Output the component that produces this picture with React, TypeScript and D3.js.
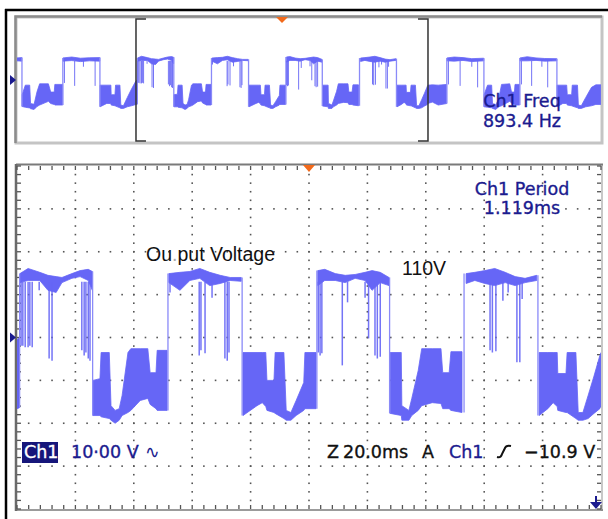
import React from "react";
import * as d3 from "d3";

// one trace point: [time (div), top of band (V), bottom of band (V)]
type Pt = [number, number, number];

// the acquired record, one run per level, in time order (main window is 0..10 div)
const traceRuns: Pt[][] = [
  [[-4.08, 15.0, 13.0], [-3.91, 15.2, 12.8]],
  [[-3.9, -10.0, -18.0], [-3.79, -3.5, -18.5], [-3.64, -3.5, -19.0], [-3.61, -16.0, -19.5], [-3.49, -16.5, -20.0], [-3.39, -8.0, -18.0], [-3.3, -2.6, -17.0], [-3.0, -2.6, -14.5], [-2.92, -8.2, -16.0], [-2.8, -8.2, -16.6], [-2.78, -3.0, -17.0], [-2.51, -3.0, -17.0]],
  [[-2.5, 15.0, 12.8], [-2.2, 15.6, 13.2], [-1.9, 14.8, 12.5], [-1.6, 15.1, 13.0], [-1.24, 15.2, 12.8]],
  [[-1.23, -3.5, -18.2], [-1.0, -3.5, -15.9], [-0.86, -3.5, -16.0], [-0.85, -10.0, -17.0], [-0.72, -10.0, -17.5], [-0.7, -3.5, -17.7], [-0.55, -3.5, -18.9], [-0.52, -17.0, -19.3], [-0.43, -17.5, -19.3], [-0.3, -12.0, -18.2], [-0.15, -6.0, -17.5], [0.0, -0.5, -16.6], [0.04, 0.0, -16.4]],
  [[0.05, 14.9, 12.8], [0.19, 16.1, 13.3], [0.39, 15.2, 13.3], [0.53, 14.5, 11.0], [0.67, 14.2, 10.5], [0.77, 14.0, 12.8], [0.94, 14.9, 13.8], [1.08, 15.6, 14.2], [1.22, 15.9, 13.3], [1.29, 15.4, 11.0]],
  [[1.3, -10.0, -18.2], [1.42, -9.6, -18.2], [1.44, -3.5, -18.5], [1.58, -3.5, -18.9], [1.61, -15.9, -19.3], [1.68, -17.0, -20.0], [1.75, -16.6, -19.3], [1.8, -13.5, -18.2], [1.9, -3.5, -17.5], [1.95, -2.6, -17.0], [2.11, -2.6, -14.7], [2.24, -2.6, -14.2], [2.28, -8.2, -15.6], [2.38, -8.2, -16.6], [2.4, -3.0, -17.0], [2.57, -3.0, -17.0]],
  [[2.6, 14.9, 12.8], [2.79, 15.2, 11.0], [2.96, 15.4, 13.3], [3.13, 16.1, 13.8], [3.3, 15.2, 12.1], [3.48, 14.5, 12.6], [3.65, 14.0, 13.3], [3.84, 14.0, 13.1]],
  [[3.87, -3.5, -18.2], [4.11, -3.5, -15.9], [4.2, -3.5, -15.2], [4.26, -3.5, -16.1], [4.28, -10.0, -17.0], [4.4, -10.0, -17.5], [4.42, -3.5, -17.7], [4.57, -3.5, -18.9], [4.61, -17.0, -19.3], [4.69, -17.5, -19.3], [4.78, -14.7, -18.2], [4.91, -10.5, -17.0], [4.93, -3.5, -16.6], [5.12, -3.5, -16.6]],
  [[5.15, 15.6, 12.1], [5.27, 15.9, 13.3], [5.45, 14.9, 13.3], [5.62, 14.5, 12.8], [5.79, 14.7, 13.8], [5.96, 15.2, 13.3], [6.08, 15.6, 11.0], [6.22, 15.2, 12.8], [6.37, 14.0, 12.1]],
  [[6.39, -3.5, -17.7], [6.58, -3.5, -18.2], [6.59, -15.9, -19.3], [6.71, -17.0, -19.3], [6.76, -14.2, -18.2], [6.87, -7.7, -17.0], [6.93, -2.6, -15.9], [7.11, -2.6, -15.2], [7.26, -2.6, -15.4], [7.29, -8.2, -16.6], [7.4, -8.2, -16.6], [7.43, -3.3, -17.0], [7.62, -3.3, -17.5]],
  [[7.69, 14.9, 12.6], [7.84, 15.2, 13.3], [8.01, 15.6, 12.6], [8.18, 16.1, 12.1], [8.36, 15.2, 12.8], [8.53, 14.2, 12.1], [8.7, 13.8, 12.8], [8.9, 14.5, 13.3]],
  [[8.94, -3.5, -18.2], [9.09, -3.5, -16.6], [9.18, -3.5, -15.2], [9.25, -3.5, -16.1], [9.26, -8.4, -17.0], [9.4, -8.4, -17.5], [9.42, -3.5, -17.5], [9.57, -3.5, -18.9], [9.61, -17.5, -19.3], [9.69, -17.5, -19.3], [9.78, -13.5, -18.9], [9.88, -9.0, -17.7], [9.98, -4.2, -16.6], [10.0, -3.5, -15.9], [10.15, -3.3, -15.0], [10.35, -3.5, -17.0], [10.64, -3.0, -16.0]],
  [[10.65, 15.0, 13.0], [10.9, 15.6, 12.8], [11.2, 15.2, 13.3], [11.5, 14.5, 12.5], [11.91, 14.8, 13.0]],
  [[11.92, -10.0, -18.2], [12.04, -3.5, -18.5], [12.18, -3.5, -18.9], [12.21, -16.0, -19.3], [12.32, -16.8, -20.0], [12.42, -13.0, -18.2], [12.52, -3.0, -17.5], [12.8, -2.6, -14.5], [12.86, -8.2, -15.6], [12.96, -8.2, -16.6], [12.98, -3.0, -17.0], [13.14, -3.0, -17.0]],
  [[13.15, 15.0, 13.0], [13.4, 15.8, 13.0], [13.7, 15.0, 13.3], [14.0, 14.6, 12.8], [14.41, 14.5, 13.0]],
  [[14.42, -3.5, -18.2], [14.62, -3.5, -15.9], [14.75, -3.5, -16.0], [14.77, -10.0, -17.0], [14.92, -10.0, -17.5], [14.94, -3.5, -17.7], [15.12, -3.5, -18.9], [15.15, -17.0, -19.3], [15.25, -17.5, -19.3], [15.4, -12.0, -18.2], [15.6, -5.0, -17.5], [15.75, -3.3, -16.6], [15.92, -3.3, -16.6]],
];

// glitches dropping out of the positive level: [time (div), lowest value (V)]
const spikes: [number, number][] = [
  [0.07, -1.9], [0.1, -1.9], [0.14, -2.3], [0.19, -2.3], [0.22, -1.9], [0.26, -2.3], [0.38, 11.0], [0.55, -4.9], [0.6, -5.4],
  [1.11, -3.0], [1.15, -4.2], [1.18, -3.5], [1.22, -4.9], [1.25, -5.4],
  [2.62, 10.5], [3.12, -4.2], [3.15, -3.0], [3.22, -3.7], [3.34, 9.3], [3.56, -4.9], [3.6, -5.4], [3.63, -3.5],
  [5.16, -3.5], [5.19, -4.2], [5.22, -3.7], [5.57, -6.5], [5.66, 8.2], [5.96, 9.3], [6.02, -0.2], [6.13, -4.2], [6.17, -4.9], [6.22, -4.5],
  [8.1, -3.0], [8.14, -3.5], [8.2, -3.2], [8.32, 8.6], [8.41, 10.5], [8.56, -5.8], [8.61, -5.8], [8.65, 9.0],
  [-2.45, -2.0], [-2.1, -4.0], [-1.8, 9.0], [-1.4, -4.0], [10.7, -3.0], [11.1, -4.0], [11.5, 9.0], [11.7, -5.0],
  [13.2, -3.0], [13.55, -4.0], [13.9, 9.0], [14.1, -5.0],
];

const spikeTop = 13;
const mainWindow = [0, 10];
const hDivs = 10;
const vDivs = 8;
const voltsPerDiv = 10;

const freqLabel = ["Ch1 Freq", "893.4 Hz"];
const periodLabel = ["Ch1 Period", "1.119ms"];
const annotation = "Output Voltage";
const levelNote = "110V";

const W = 608;
const H = 519;
const mainBox = { x0: 17, x1: 601, y0: 166, y1: 509 };
const overBox = { x0: 17, x1: 601, y0: 18, y1: 142 };

const TRACE = "#6666f6";
const NAVY = "#1b1b8f";
const SCOPE_FONT = "'DejaVu Sans', Verdana, sans-serif";
const NOTE_FONT = "'Liberation Sans', Arial, sans-serif";

const xMain = d3.scaleLinear().domain(mainWindow).range([mainBox.x0, mainBox.x1]);
const yMain = d3
  .scaleLinear()
  .domain([(-vDivs / 2) * voltsPerDiv, (vDivs / 2) * voltsPerDiv])
  .range([mainBox.y1, mainBox.y0]);
// overview shows the whole record, the main window is a 2x zoom of it
const xOver = d3.scaleLinear().domain([-4.075, 15.925]).range([overBox.x0, overBox.x1]);
const yOver = d3.scaleLinear().domain([-40, 40]).range([138.9, 21.1]);

function Trace({ x, y, clip, sw }: { x: d3.ScaleLinear<number, number>; y: d3.ScaleLinear<number, number>; clip: string; sw: number }) {
  const area = d3
    .area<Pt>()
    .x((d) => x(d[0]))
    .y0((d) => y(d[2]))
    .y1((d) => y(d[1]));
  const edges = traceRuns.slice(0, -1).map((run, i) => {
    const a = run[run.length - 1];
    const b = traceRuns[i + 1][0];
    return { t: (a[0] + b[0]) / 2, hi: Math.max(a[1], b[1]), lo: Math.min(a[2], b[2]) };
  });
  return (
    <g clipPath={`url(#${clip})`}>
      {traceRuns.map((run, i) => (
        <path key={i} d={area(run) || ""} fill={TRACE} stroke={TRACE} strokeWidth={0.8} />
      ))}
      {edges.map((e, i) => (
        <line key={i} x1={x(e.t)} x2={x(e.t)} y1={y(e.hi)} y2={y(e.lo)} stroke="#8a8af8" strokeWidth={1.3} />
      ))}
      {spikes.map(([t, v], i) => (
        <line key={i} x1={x(t)} x2={x(t)} y1={y(spikeTop)} y2={y(v)} stroke={TRACE} strokeWidth={sw} opacity={0.9} />
      ))}
    </g>
  );
}

function Graticule() {
  const dots: React.ReactNode[] = [];
  const minorT = d3.range(1, hDivs * 5).map((k) => k / 5);
  const minorV = d3.range(1, vDivs * 5).map((k) => -40 + k * 2);
  // vertical dotted lines
  d3.range(1, hDivs).forEach((i) => {
    minorV.forEach((v, k) =>
      dots.push(<rect key={`v${i}-${k}`} x={xMain(i) - 0.8} y={yMain(v) - 0.8} width={1.6} height={1.6} fill="#555" />)
    );
  });
  // horizontal dotted lines
  d3.range(1, vDivs).forEach((j) => {
    const v = -40 + j * voltsPerDiv;
    minorT.forEach((t, k) =>
      dots.push(<rect key={`h${j}-${k}`} x={xMain(t) - 0.8} y={yMain(v) - 0.8} width={1.6} height={1.6} fill="#555" />)
    );
  });
  // border ticks
  const ticks: React.ReactNode[] = [];
  d3.range(0, hDivs * 5 + 1).forEach((k) => {
    const px = xMain(k / 5);
    ticks.push(<line key={`tt${k}`} x1={px} x2={px} y1={mainBox.y0} y2={mainBox.y0 + 4} stroke="#555" strokeWidth={1.3} />);
    ticks.push(<line key={`tb${k}`} x1={px} x2={px} y1={mainBox.y1 - 4} y2={mainBox.y1} stroke="#555" strokeWidth={1.3} />);
  });
  d3.range(0, vDivs * 5 + 1).forEach((k) => {
    const py = yMain(-40 + k * 2);
    ticks.push(<line key={`tl${k}`} x1={mainBox.x0} x2={mainBox.x0 + 4} y1={py} y2={py} stroke="#555" strokeWidth={1.3} />);
    ticks.push(<line key={`tr${k}`} x1={mainBox.x1 - 4} x2={mainBox.x1} y1={py} y2={py} stroke="#555" strokeWidth={1.3} />);
  });
  return (
    <g>
      {dots}
      {ticks}
    </g>
  );
}

export default function App() {
  const bx0 = xOver(mainWindow[0]);
  const bx1 = xOver(mainWindow[1]);
  return (
    <svg width={W} height={H} style={{ position: "absolute", left: 0, top: 0, background: "#fff" }}>
      <defs>
        <clipPath id="clipMain">
          <rect x={mainBox.x0} y={mainBox.y0} width={mainBox.x1 - mainBox.x0} height={mainBox.y1 - mainBox.y0} />
        </clipPath>
        <clipPath id="clipOver">
          <rect x={overBox.x0} y={overBox.y0} width={overBox.x1 - overBox.x0} height={overBox.y1 - overBox.y0} />
        </clipPath>
      </defs>

      {/* outer frame */}
      <line x1={5} x2={W} y1={10} y2={10} stroke="#000" strokeWidth={2.5} />
      <line x1={6} x2={6} y1={9} y2={H} stroke="#000" strokeWidth={2.5} />

      {/* overview panel */}
      <rect x={16} y={17} width={586} height={126} fill="#fff" stroke="#c4c4c4" strokeWidth={3} />
      <path d="M15.5,143 L15.5,16.5 L602,16.5" fill="none" stroke="#8c8c8c" strokeWidth={2.5} />
      <Trace x={xOver} y={yOver} clip="clipOver" sw={1} />
      <path d={`M${bx0 + 10},19 H${bx0} V141 H${bx0 + 10}`} fill="none" stroke="#333" strokeWidth={1.5} />
      <path d={`M${bx1 - 10},19 H${bx1} V141 H${bx1 - 10}`} fill="none" stroke="#333" strokeWidth={1.5} />
      <polygon points={`${xOver(5) - 6},17 ${xOver(5) + 6},17 ${xOver(5)},23`} fill="#f26a1b" />
      <polygon points={`10,${yOver(0) - 5} 16,${yOver(0)} 10,${yOver(0) + 5}`} fill={NAVY} />
      <g fontFamily={SCOPE_FONT} fontSize={17.5} fill={NAVY} stroke={NAVY} strokeWidth={0.35} textAnchor="middle">
        <text x={522} y={107}>{freqLabel[0]}</text>
        <text x={522} y={127}>{freqLabel[1]}</text>
      </g>

      {/* main panel */}
      <rect x={mainBox.x0} y={mainBox.y0} width={mainBox.x1 - mainBox.x0} height={mainBox.y1 - mainBox.y0} fill="#fff" />
      <line x1={mainBox.x1 + 1} x2={mainBox.x1 + 1} y1={mainBox.y0 - 2} y2={mainBox.y1 + 2} stroke="#c8c8c8" strokeWidth={2} />
      <line x1={mainBox.x0 - 1} x2={mainBox.x1 + 2} y1={mainBox.y0 - 1.5} y2={mainBox.y0 - 1.5} stroke="#7a7a7a" strokeWidth={2} />
      <line x1={mainBox.x0 - 1} x2={mainBox.x1 + 2} y1={mainBox.y1 + 1} y2={mainBox.y1 + 1} stroke="#7a7a7a" strokeWidth={1.5} />
      <line x1={mainBox.x0 - 1} x2={mainBox.x0 - 1} y1={mainBox.y0 - 2} y2={mainBox.y1 + 2} stroke="#6a6a6a" strokeWidth={2.5} />
      <Graticule />
      <Trace x={xMain} y={yMain} clip="clipMain" sw={1.5} />
      <polygon points={`${xMain(5) - 6},${mainBox.y0 - 1} ${xMain(5) + 6},${mainBox.y0 - 1} ${xMain(5)},${mainBox.y0 + 6}`} fill="#f26a1b" />
      <polygon points={`10,${yMain(0) - 5} 16,${yMain(0)} 10,${yMain(0) + 5}`} fill={NAVY} />
      <path d={`M596,496 V503`} stroke={NAVY} strokeWidth={2} />
      <polygon points="590,502 602,502 596,509" fill={NAVY} />

      <g fontFamily={SCOPE_FONT} fontSize={17.5} fill={NAVY} stroke={NAVY} strokeWidth={0.35} textAnchor="middle">
        <text x={522} y={195}>{periodLabel[0]}</text>
        <text x={522} y={214}>{periodLabel[1]}</text>
      </g>

      <g fontFamily={NOTE_FONT} fontSize={19.5} fill="#111">
        <text x={146} y={261}>
          {annotation.slice(0, 2)}
          <tspan fill="#aaa">.</tspan>
          {annotation.slice(3)}
        </text>
        <text x={402} y={275}>{levelNote}</text>
      </g>

      {/* status line */}
      <rect x={22} y={442} width={36} height={21} fill="#16167a" />
      <g fontFamily={SCOPE_FONT} fontSize={17.5} strokeWidth={0.35}>
        <text x={24} y={458} fill="#fff" stroke="#fff">Ch1</text>
        <text x={71} y={458} fill={NAVY} stroke={NAVY}>10·00 V</text>
        <text x={145} y={458} fill={NAVY}>∿</text>
        <text x={327} y={458} fill="#111" stroke="#111">Z</text>
        <text x={343} y={458} fill="#111" stroke="#111">20.0ms</text>
        <text x={422} y={458} fill="#111" stroke="#111">A</text>
        <text x={449} y={458} fill={NAVY} stroke={NAVY}>Ch1</text>
        <text x={524} y={458} fill="#111" stroke="#111">−10.9 V</text>
      </g>
      <path d="M497,457 Q501,458 502,454 L505,448 Q506,445 511,446" fill="none" stroke="#111" strokeWidth={2} />
    </svg>
  );
}
